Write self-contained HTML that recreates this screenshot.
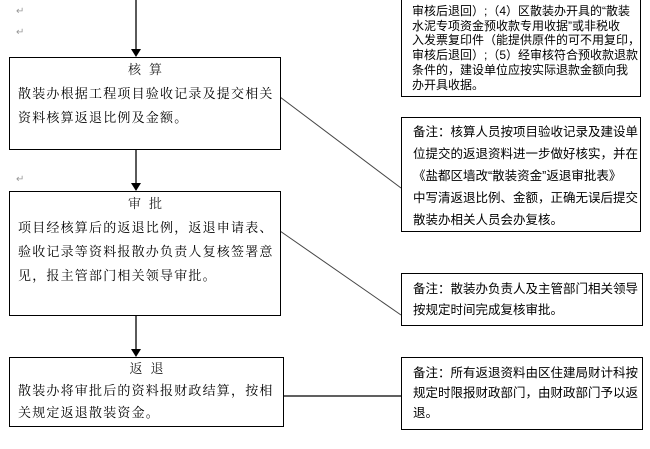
<!DOCTYPE html>
<html><head><meta charset="utf-8"><style>
body{margin:0;width:650px;height:449px;background:#fff;position:relative;overflow:hidden;font-family:"Liberation Sans","Noto Serif CJK SC","Noto Sans CJK SC",serif;color:#000}
.b{position:absolute;border:1.3px solid #000;box-sizing:border-box;background:#fff}
.l{font-size:13px;letter-spacing:1.2px;line-height:24px;padding:0 0 0 8px;white-space:nowrap}
.l .t{text-align:center;letter-spacing:8px;color:#222}
.r{font-family:"Liberation Sans","Noto Sans CJK SC",sans-serif;font-size:12.5px;white-space:nowrap;padding-left:11px}
.m{color:#999;font-size:10px;position:absolute}
</style></head><body>
<svg width="650" height="449" style="position:absolute;left:0;top:0">
<g stroke="#000" stroke-width="1.3">
<line x1="136" y1="0" x2="136" y2="50"/>
<line x1="136" y1="149" x2="136" y2="184"/>
<line x1="136" y1="315" x2="136" y2="350"/>
<line x1="283" y1="396" x2="402" y2="396"/>
</g>
<g stroke="#444" stroke-width="1">
<line x1="280" y1="97" x2="401" y2="188"/>
<line x1="280" y1="231" x2="401" y2="315"/>
</g>
<g fill="#000">
<polygon points="131,49 141,49 136,57"/>
<polygon points="131,183 141,183 136,191"/>
<polygon points="131,349 141,349 136,357"/>
</g>
</svg>
<div class="b l" style="left:9px;top:57px;width:272px;height:93px">
<div class="t">核算</div>
<div>散装办根据工程项目验收记录及提交相关</div>
<div>资料核算返退比例及金额。</div>
</div>
<div class="b l" style="left:9px;top:191px;width:272px;height:125px">
<div class="t">审批</div>
<div>项目经核算后的返退比例，返退申请表、</div>
<div>验收记录等资料报散办负责人复核签署意</div>
<div>见，报主管部门相关领导审批。</div>
</div>
<div class="b l" style="left:9px;top:357px;width:275px;height:70px">
<div class="t" style="line-height:22px">返退</div>
<div style="line-height:22px">散装办将审批后的资料报财政结算，按相</div>
<div style="line-height:22px">关规定返退散装资金。</div>
</div>
<div class="b r" style="left:401px;top:-2px;width:240px;height:99px;line-height:14.7px;padding-top:5px;font-size:12px;padding-left:10px">
<div>审核后退回）;（4）区散装办开具的“散装</div>
<div>水泥专项资金预收款专用收据”或非税收</div>
<div>入发票复印件（能提供原件的可不用复印，</div>
<div>审核后退回）;（5）经审核符合预收款退款</div>
<div>条件的，建设单位应按实际退款金额向我</div>
<div>办开具收据。</div>
</div>
<div class="b r" style="left:401px;top:117px;width:240px;height:115px;line-height:22px;padding-top:3px">
<div>备注：核算人员按项目验收记录及建设单</div>
<div>位提交的返退资料进一步做好核实，并在</div>
<div>《盐都区墙改“散装资金”返退审批表》</div>
<div>中写清返退比例、金额，正确无误后提交</div>
<div>散装办相关人员会办复核。</div>
</div>
<div class="b r" style="left:401px;top:273px;width:242px;height:53px;line-height:21px;padding-top:5px">
<div>备注：散装办负责人及主管部门相关领导</div>
<div>按规定时间完成复核审批。</div>
</div>
<div class="b r" style="left:401px;top:357px;width:242px;height:73px;line-height:20px;padding-top:5px">
<div>备注：所有返退资料由区住建局财计科按</div>
<div>规定时限报财政部门，由财政部门予以返</div>
<div>退。</div>
</div>
<span class="m" style="left:16px;top:6px">↵</span>
<span class="m" style="left:16px;top:27px">↵</span>
<span class="m" style="left:16px;top:174px">↵</span>
</body></html>
